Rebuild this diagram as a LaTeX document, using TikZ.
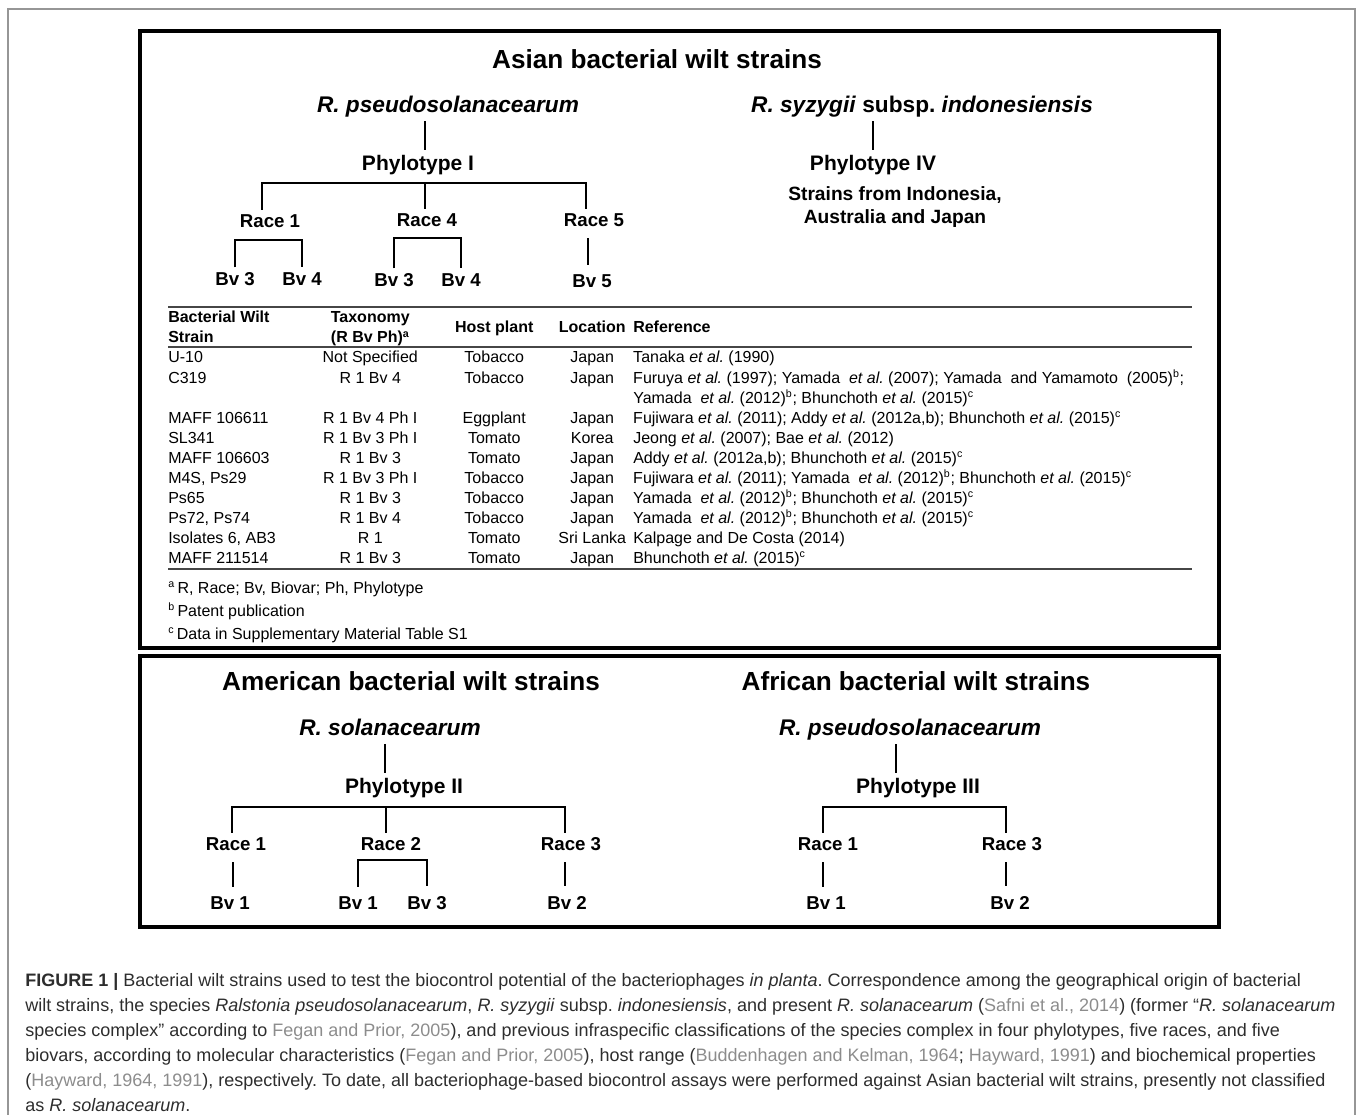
\documentclass[tikz,border=0pt]{standalone}
\usepackage{fontspec}
\setmainfont{Liberation Sans}
\usepackage{array}
\usepackage{tikz}
\usetikzlibrary{positioning}
\frenchspacing
\definecolor{tinta}{RGB}{45, 45, 45}
\definecolor{gris}{RGB}{70, 70, 70}
\definecolor{plata}{RGB}{140, 140, 140}
\definecolor{marco}{RGB}{150, 150, 150}
\newcommand{\bajo}[1]{\raisebox{-7.2pt}[0pt][0pt]{\textbf{#1}}}
\tikzset{
    ttl/.style={font=\fontsize{19.6}{23}\selectfont\bfseries, anchor=base},
    spc/.style={font=\fontsize{17}{20}\selectfont\bfseries, anchor=base},
    phy/.style={font=\fontsize{15.75}{19}\selectfont\bfseries, anchor=base},
    race/.style={font=\fontsize{14}{17}\selectfont\bfseries, anchor=base},
    nota/.style={font=\fontsize{12}{15}\selectfont, anchor=base west, inner sep=0pt},
    capt/.style={font=\fontsize{13.5}{18}\selectfont, text=tinta, anchor=base west, inner sep=0pt},
    conn/.style={-, line width=2pt},
    vln/.style={conn, shorten <=5pt, shorten >=3pt},
    box/.style={draw, line width=2.3pt},
    rule/.style={draw=gris, line width=1.3pt},
}

\begin{document}
\begin{tikzpicture}[x=0.75pt, y=-0.75pt]
    \useasboundingbox (0,0) rectangle (1358,1114);
    \draw[marco, line width=0.8pt] (8,9) rectangle (1355,1140);
    \draw[box] (140,31) rectangle (1219,648);
    \draw[box] (140,656) rectangle (1219,927);

    % Asian strains
    \node[ttl] (asia) at (657,68) {Asian bacterial wilt strains};
    \node[spc] (sp1) at (448,112) {\itshape R. pseudosolanacearum};
    \node[spc] (sp4) at (922,112) {\textit{R. syzygii} subsp. \textit{indonesiensis}};
    \node[phy] (ph1) at (418,170) {Phylotype I};
    \node[phy] (ph4) at (873,170) {Phylotype IV};
    \node[race, anchor=center, align=center, font=\fontsize{14.4}{17.25}\selectfont\bfseries] (orig) at (895,207) {Strains from Indonesia,\\Australia and Japan};
    \node[race] (ra1) at (270,227.5) {Race 1};
    \node[race] (ra4) at (427,226.5) {Race 4};
    \node[race] (ra5) at (594,226.5) {Race 5};
    \node[race] (bv13) at (235,285) {Bv 3};
    \node[race] (bv14) at (302,285) {Bv 4};
    \node[race] (bv43) at (394,286) {Bv 3};
    \node[race] (bv44) at (461,286) {Bv 4};
    \node[race] (bv5) at (592,287) {Bv 5};
    \coordinate (j1) at (425,183);
    \coordinate (j1a) at (267,240);
    \coordinate (j1b) at (427,238);

    \draw[conn] ([xshift=-17.25pt]sp1.south) -- ([xshift=-17.25pt]sp1.south |- ph1.north);
    \draw[conn] (ph4.north |- sp4.south) -- (ph4.north);
    \draw[conn] ([xshift=-6pt]ra1.north) |- (j1) -| ([xshift=-6pt]ra5.north);
    \draw[conn] (j1) -- (j1 |- ra4.north);
    \draw[conn] (bv13.north) |- (j1a) -| (bv14.north);
    \draw[conn] (bv43.north) |- (j1b) -| (bv44.north);
    \draw[vln] ([xshift=-3pt]bv5.north |- ra5.south) -- ([xshift=-3pt]bv5.north);

    % table
    \draw[rule] (168,307) -- (1192,307);
    \draw[rule] (168,347) -- (1192,347);
    \draw[rule] (168,569) -- (1192,569);
    \node[anchor=north west, inner sep=0pt, font=\fontsize{12}{15.06}\selectfont] (tab) at (168,308.5) {%
    \begin{tabular}{@{}p{106.5pt}@{}>{\centering\arraybackslash}p{90pt}@{}>{\centering\arraybackslash}p{96pt}@{}>{\centering\arraybackslash}p{51pt}@{\hspace{5.25pt}}l@{}}
    \textbf{Bacterial Wilt} & \textbf{Taxonomy} & \bajo{Host plant} & \bajo{Location} & \bajo{Reference}\\
    \textbf{Strain} & \textbf{(R Bv Ph)\textsuperscript{a}} & & & \\
    U-10 & Not Specified & Tobacco & Japan & Tanaka \textit{et al.} (1990)\\
    C319 & R 1 Bv 4 & Tobacco & Japan & Furuya \textit{et al.} (1997); Yamada \ \textit{et al.} (2007); Yamada \ and Yamamoto \ (2005)\textsuperscript{b};\\
     & & & & Yamada \ \textit{et al.} (2012)\textsuperscript{b}; Bhunchoth \textit{et al.} (2015)\textsuperscript{c}\\
    MAFF 106611 & R 1 Bv 4 Ph I & Eggplant & Japan & Fujiwara \textit{et al.} (2011); Addy \textit{et al.} (2012a,b); Bhunchoth \textit{et al.} (2015)\textsuperscript{c}\\
    SL341 & R 1 Bv 3 Ph I & Tomato & Korea & Jeong \textit{et al.} (2007); Bae \textit{et al.} (2012)\\
    MAFF 106603 & R 1 Bv 3 & Tomato & Japan & Addy \textit{et al.} (2012a,b); Bhunchoth \textit{et al.} (2015)\textsuperscript{c}\\
    M4S, Ps29 & R 1 Bv 3 Ph I & Tobacco & Japan & Fujiwara \textit{et al.} (2011); Yamada \ \textit{et al.} (2012)\textsuperscript{b}; Bhunchoth \textit{et al.} (2015)\textsuperscript{c}\\
    Ps65 & R 1 Bv 3 & Tobacco & Japan & Yamada \ \textit{et al.} (2012)\textsuperscript{b}; Bhunchoth \textit{et al.} (2015)\textsuperscript{c}\\
    Ps72, Ps74 & R 1 Bv 4 & Tobacco & Japan & Yamada \ \textit{et al.} (2012)\textsuperscript{b}; Bhunchoth \textit{et al.} (2015)\textsuperscript{c}\\
    Isolates 6, AB3 & R 1 & Tomato & \makebox[0pt]{Sri Lanka} & Kalpage and De Costa (2014)\\
    MAFF 211514 & R 1 Bv 3 & Tomato & Japan & Bhunchoth \textit{et al.} (2015)\textsuperscript{c}\\
    \end{tabular}};
    \node[nota] (na) at (168,593) {\textsuperscript{a}\,R, Race; Bv, Biovar; Ph, Phylotype};
    \node[nota] (nb) at (168,616) {\textsuperscript{b}\,Patent publication};
    \node[nota] (nc) at (168,639) {\textsuperscript{c}\,Data in Supplementary Material Table S1};

    % American strains
    \node[ttl] (amer) at (411,690) {American bacterial wilt strains};
    \node[spc] (sp2) at (390,735) {\itshape R. solanacearum};
    \node[phy] (ph2) at (404,793) {Phylotype II};
    \node[race] (ra21) at (236,850.5) {Race 1};
    \node[race] (ra22) at (391,850.5) {Race 2};
    \node[race] (ra23) at (571,850.5) {Race 3};
    \node[race] (bv21) at (230,909.5) {Bv 1};
    \node[race] (bv221) at (358,909.5) {Bv 1};
    \node[race] (bv223) at (427,909.5) {Bv 3};
    \node[race] (bv232) at (567,909.5) {Bv 2};
    \coordinate (j2) at (386,807);
    \coordinate (j2b) at (390,860);

    \draw[conn, shorten <=3pt] ([xshift=-3.75pt]sp2.south) -- ([xshift=-3.75pt]sp2.south |- ph2.north);
    \draw[conn] ([xshift=-3pt]ra21.north) |- (j2) -| ([xshift=-4.5pt]ra23.north);
    \draw[conn] (j2) -- (j2 |- ra22.north);
    \draw[vln, shorten >=4pt] ([xshift=2.25pt]bv21.north |- ra21.south) -- ([xshift=2.25pt]bv21.north);
    \draw[conn, shorten <=4pt, shorten >=4pt] (bv221.north) |- (j2b) -| (bv223.north);
    \draw[vln, shorten >=4pt] ([xshift=-1.5pt]bv232.north |- ra23.south) -- ([xshift=-1.5pt]bv232.north);

    % African strains
    \node[ttl] (afr) at (916,690) {African bacterial wilt strains};
    \node[spc] (sp3) at (910,735) {\itshape R. pseudosolanacearum};
    \node[phy] (ph3) at (918,793) {Phylotype III};
    \node[race] (ra31) at (828,850.5) {Race 1};
    \node[race] (ra33) at (1012,850.5) {Race 3};
    \node[race] (bv31) at (826,909.5) {Bv 1};
    \node[race] (bv32) at (1010,909.5) {Bv 2};
    \coordinate (j3) at (914,807);

    \draw[conn] ([xshift=-10.5pt]sp3.south) -- ([xshift=-10.5pt]sp3.south |- ph3.north);
    \draw[conn] ([xshift=-3.75pt]ra31.north) |- (j3) -| ([xshift=-4.5pt]ra33.north);
    \draw[vln, shorten >=4pt] ([xshift=-2.25pt]bv31.north |- ra31.south) -- ([xshift=-2.25pt]bv31.north);
    \draw[vln, shorten >=4pt] ([xshift=-3pt]bv32.north |- ra33.south) -- ([xshift=-3pt]bv32.north);

    % caption
    \node[capt] (cap1) at (25,986) {\textbf{FIGURE 1 |} Bacterial wilt strains used to test the biocontrol potential of the bacteriophages \textit{in planta}. Correspondence among the geographical origin of bacterial};
    \node[capt] (cap2) at (25,1011) {wilt strains, the species \textit{Ralstonia pseudosolanacearum}, \textit{R. syzygii} subsp. \textit{indonesiensis}, and present \textit{R. solanacearum} (\textcolor{plata}{Safni et al., 2014}) (former “\textit{R. solanacearum}};
    \node[capt] (cap3) at (25,1036) {species complex” according to \textcolor{plata}{Fegan and Prior, 2005}), and previous infraspecific classifications of the species complex in four phylotypes, five races, and five};
    \node[capt] (cap4) at (25,1061) {biovars, according to molecular characteristics (\textcolor{plata}{Fegan and Prior, 2005}), host range (\textcolor{plata}{Buddenhagen and Kelman, 1964}; \textcolor{plata}{Hayward, 1991}) and biochemical properties};
    \node[capt] (cap5) at (25,1086) {(\textcolor{plata}{Hayward, 1964, 1991}), respectively. To date, all bacteriophage-based biocontrol assays were performed against Asian bacterial wilt strains, presently not classified};
    \node[capt] (cap6) at (25,1111) {as \textit{R. solanacearum}.};
\end{tikzpicture}
\end{document}
